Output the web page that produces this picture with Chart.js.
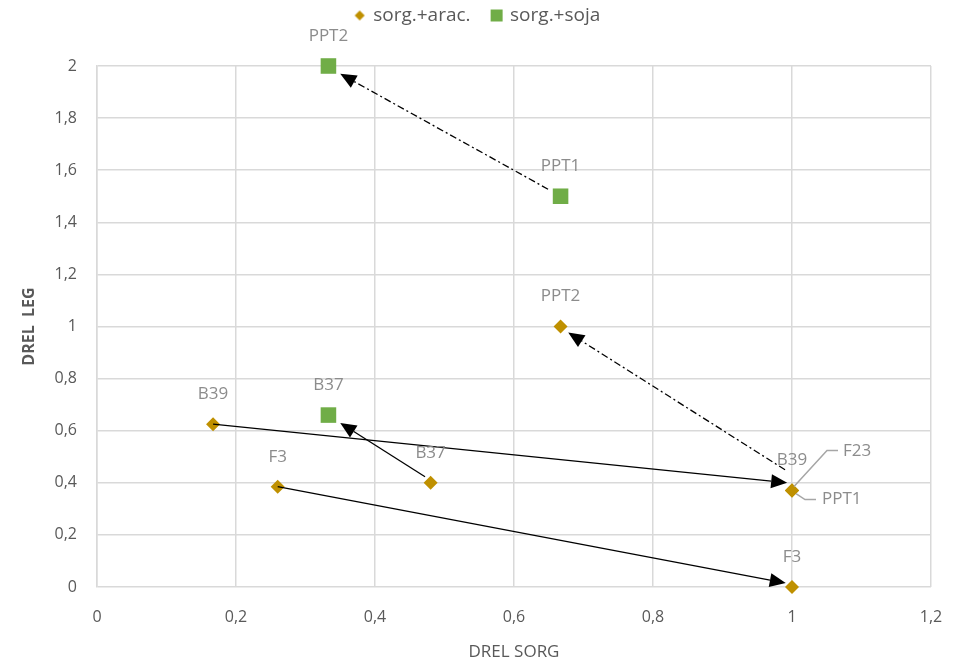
<!DOCTYPE html>
<html lang="en">
<head>
    <meta charset="UTF-8">
    <title>DREL SORG vs DREL LEG</title>
    <script src="https://cdn.jsdelivr.net/npm/chart.js"></script>
    <style>
        html, body { margin: 0; padding: 0; background: #fff; }
        .wrap { width: 956px; height: 666px; }
    </style>
</head>
<body>
    <div class="wrap"><canvas id="drelChart" width="956" height="666"></canvas></div>

    <script>
// data
const aracLabels = ['B39', 'F3', 'B37', 'PPT2', 'B39', 'F23', 'PPT1', 'F3'];
const aracX = [0.167, 0.26, 0.48, 0.667, 1, 1, 1, 1];
const aracY = [0.625, 0.385, 0.40, 1.0, 0.37, 0.37, 0.37, 0];

const sojaLabels = ['PPT2', 'PPT1', 'B37'];
const sojaX = [0.333, 0.667, 0.333];
const sojaY = [2, 1.5, 0.66];

const xTicks = [0, 0.2, 0.4, 0.6, 0.8, 1, 1.2];
const yTicks = [0, 0.2, 0.4, 0.6, 0.8, 1, 1.2, 1.4, 1.6, 1.8, 2];

// arrows (data coords): from -> to, dashed or not
const arrowFromX = [0.649, 0.99, 0.167, 0.472, 0.26];
const arrowFromY = [1.527, 0.45, 0.625, 0.423, 0.385];
const arrowToX = [0.35, 0.678, 0.993, 0.35, 0.991];
const arrowToY = [1.97, 0.977, 0.40, 0.63, 0.015];
const arrowDashed = [true, true, false, false, false];

// label placement tweaks (pixels) for the crowded point at (1; 0,37)
const labelSpecial = {
    '0-5': { leader: [[2, -4], [35, -40], [46, -40]], tx: 51, ty: -39, align: 'left' },
    '0-6': { leader: [[4, 3], [13, 9], [24, 9]], tx: 30, ty: 9, align: 'left' }
};

const gold = '#BF9000';
const green = '#70AD47';

function fmt(v) {
    return String(Math.round(v * 10) / 10).replace('.', ',');
}

// small legend markers
function marker(kind, color) {
    const c = document.createElement('canvas');
    c.width = 14; c.height = 14;
    const g = c.getContext('2d');
    g.fillStyle = color;
    if (kind === 'diamond') {
        g.beginPath();
        g.moveTo(7, 2); g.lineTo(12, 7); g.lineTo(7, 12); g.lineTo(2, 7);
        g.closePath();
        g.fill();
    } else {
        g.fillRect(1, 1, 12, 12);
    }
    return c;
}
const legendMarks = [marker('diamond', gold), marker('square', green)];

const arrowPlugin = {
    id: 'arrows',
    afterDatasetsDraw(chart) {
        const ctx = chart.ctx;
        const xs = chart.scales.x, ys = chart.scales.y;
        ctx.save();
        for (let i = 0; i < arrowFromX.length; i++) {
            const x1 = xs.getPixelForValue(arrowFromX[i]);
            const y1 = ys.getPixelForValue(arrowFromY[i]);
            const x2 = xs.getPixelForValue(arrowToX[i]);
            const y2 = ys.getPixelForValue(arrowToY[i]);
            const ang = Math.atan2(y2 - y1, x2 - x1);
            const len = 16, half = 7;
            const bx = x2 - Math.cos(ang) * len, by = y2 - Math.sin(ang) * len;
            ctx.strokeStyle = '#000';
            ctx.lineWidth = 1.3;
            ctx.setLineDash(arrowDashed[i] ? [7, 3, 2, 3] : []);
            ctx.beginPath();
            ctx.moveTo(x1, y1);
            ctx.lineTo(bx, by);
            ctx.stroke();
            ctx.setLineDash([]);
            ctx.fillStyle = '#000';
            ctx.beginPath();
            ctx.moveTo(x2, y2);
            ctx.lineTo(bx + Math.sin(ang) * half, by - Math.cos(ang) * half);
            ctx.lineTo(bx - Math.sin(ang) * half, by + Math.cos(ang) * half);
            ctx.closePath();
            ctx.fill();
        }
        ctx.restore();
    }
};

const labelPlugin = {
    id: 'pointLabels',
    afterDraw(chart) {
        const ctx = chart.ctx;
        ctx.save();
        ctx.font = '17px "Open Sans", sans-serif';
        ctx.fillStyle = '#8c8c8c';
        ctx.textBaseline = 'middle';
        const allLabels = [aracLabels, sojaLabels];
        chart.data.datasets.forEach((ds, di) => {
            const meta = chart.getDatasetMeta(di);
            meta.data.forEach((pt, i) => {
                const key = di + '-' + i;
                const sp = labelSpecial[key];
                if (sp) {
                    ctx.strokeStyle = '#a6a6a6';
                    ctx.lineWidth = 1.5;
                    ctx.beginPath();
                    sp.leader.forEach((p, k) => {
                        if (k === 0) ctx.moveTo(pt.x + p[0], pt.y + p[1]);
                        else ctx.lineTo(pt.x + p[0], pt.y + p[1]);
                    });
                    ctx.stroke();
                    ctx.textAlign = sp.align;
                    ctx.fillText(allLabels[di][i], pt.x + sp.tx, pt.y + sp.ty);
                } else {
                    ctx.textAlign = 'center';
                    ctx.fillText(allLabels[di][i], pt.x, pt.y - 30);
                }
            });
        });
        ctx.restore();
    }
};

new Chart(
    document.getElementById('drelChart'),
    {
        type: 'scatter',
        data: {
            datasets: [{
                label: 'sorg.+arac.',
                data: aracX.map((x, i) => ({ x: x, y: aracY[i] })),
                pointStyle: 'rectRot',
                pointRadius: 7,
                pointHoverRadius: 7,
                backgroundColor: gold,
                borderColor: gold,
                borderWidth: 0,
                clip: false
            }, {
                label: 'sorg.+soja',
                data: sojaX.map((x, i) => ({ x: x, y: sojaY[i] })),
                pointStyle: 'rect',
                pointRadius: 11,
                pointHoverRadius: 11,
                backgroundColor: green,
                borderColor: green,
                borderWidth: 0,
                clip: false
            }]
        },
        options: {
            responsive: false,
            animation: false,
            layout: { padding: { left: 0, right: 0, top: -16, bottom: 0 } },
            plugins: {
                tooltip: { enabled: false },
                // empty title used only as a spacer between legend and plot
                title: {
                    display: true,
                    text: '',
                    weight: 500,
                    font: { size: 10, lineHeight: 1.2 },
                    padding: { top: 0, bottom: 19 }
                },
                legend: {
                    position: 'top',
                    labels: {
                        usePointStyle: true,
                        boxWidth: 8,
                        boxHeight: 14,
                        padding: 22,
                        color: '#595959',
                        font: { family: '"Open Sans", sans-serif', size: 19 },
                        generateLabels(chart) {
                            return chart.data.datasets.map((ds, i) => ({
                                text: ds.label,
                                fillStyle: ds.backgroundColor,
                                strokeStyle: ds.backgroundColor,
                                lineWidth: 0,
                                pointStyle: legendMarks[i],
                                datasetIndex: i,
                                fontColor: '#595959'
                            }));
                        }
                    }
                }
            },
            scales: {
                x: {
                    type: 'linear',
                    min: 0,
                    max: 1.2,
                    afterBuildTicks(scale) {
                        scale.ticks = xTicks.map(v => ({ value: v }));
                    },
                    afterFit(scale) {
                        scale.height = 79;
                        scale.paddingRight = 25;
                        scale.paddingLeft = 0;
                    },
                    grid: { color: '#d9d9d9', lineWidth: 1.5, drawTicks: false },
                    border: { display: false },
                    ticks: {
                        padding: 21,
                        color: '#595959',
                        font: { family: '"Open Sans", sans-serif', size: 16 },
                        callback: v => fmt(v)
                    },
                    title: {
                        display: true,
                        text: 'DREL SORG',
                        color: '#595959',
                        padding: { top: 8 },
                        font: { family: '"Open Sans", sans-serif', size: 17 }
                    }
                },
                y: {
                    type: 'linear',
                    min: 0,
                    max: 2,
                    afterBuildTicks(scale) {
                        scale.ticks = yTicks.map(v => ({ value: v }));
                    },
                    afterFit(scale) {
                        scale.width = 97;
                        scale.paddingTop = 0;
                        scale.paddingBottom = 0;
                    },
                    grid: { color: '#d9d9d9', lineWidth: 1.5, drawTicks: false },
                    border: { color: '#d9d9d9', width: 1.5 },
                    ticks: {
                        padding: 20,
                        color: '#595959',
                        font: { family: '"Open Sans", sans-serif', size: 16 },
                        callback: v => fmt(v)
                    },
                    title: {
                        display: true,
                        text: 'DREL  LEG',
                        color: '#595959',
                        padding: { top: 20, bottom: 4 },
                        font: { family: '"Open Sans", sans-serif', size: 16, weight: 'bold' }
                    }
                }
            }
        },
        plugins: [arrowPlugin, labelPlugin]
    }
);
    </script>
</body>
</html>
